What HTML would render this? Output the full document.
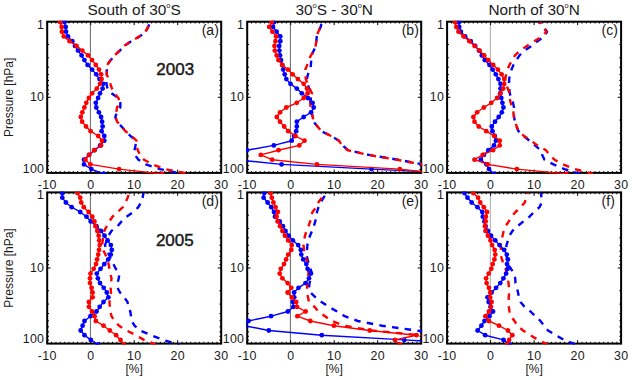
<!DOCTYPE html><html><head><meta charset="utf-8"><style>html,body{margin:0;padding:0;background:#fff;}svg{display:block}</style></head><body>
<svg width="632" height="380" viewBox="0 0 632 380">
<rect width="632" height="380" fill="#fff"/>
<clipPath id="cp00"><rect x="46.2" y="20.7" width="176.0" height="153.2"/></clipPath>
<line x1="90.40" y1="21.7" x2="90.40" y2="172.89999999999998" stroke="#666" stroke-width="1"/>
<path d="M47.20,21.7v3.4M47.20,172.89999999999998v-3.4M51.55,21.7v1.8M51.55,172.89999999999998v-1.8M55.90,21.7v1.8M55.90,172.89999999999998v-1.8M60.25,21.7v1.8M60.25,172.89999999999998v-1.8M64.60,21.7v1.8M64.60,172.89999999999998v-1.8M68.95,21.7v1.8M68.95,172.89999999999998v-1.8M73.30,21.7v1.8M73.30,172.89999999999998v-1.8M77.65,21.7v1.8M77.65,172.89999999999998v-1.8M82.00,21.7v1.8M82.00,172.89999999999998v-1.8M86.35,21.7v1.8M86.35,172.89999999999998v-1.8M90.70,21.7v3.4M90.70,172.89999999999998v-3.4M95.05,21.7v1.8M95.05,172.89999999999998v-1.8M99.40,21.7v1.8M99.40,172.89999999999998v-1.8M103.75,21.7v1.8M103.75,172.89999999999998v-1.8M108.10,21.7v1.8M108.10,172.89999999999998v-1.8M112.45,21.7v1.8M112.45,172.89999999999998v-1.8M116.80,21.7v1.8M116.80,172.89999999999998v-1.8M121.15,21.7v1.8M121.15,172.89999999999998v-1.8M125.50,21.7v1.8M125.50,172.89999999999998v-1.8M129.85,21.7v1.8M129.85,172.89999999999998v-1.8M134.20,21.7v3.4M134.20,172.89999999999998v-3.4M138.55,21.7v1.8M138.55,172.89999999999998v-1.8M142.90,21.7v1.8M142.90,172.89999999999998v-1.8M147.25,21.7v1.8M147.25,172.89999999999998v-1.8M151.60,21.7v1.8M151.60,172.89999999999998v-1.8M155.95,21.7v1.8M155.95,172.89999999999998v-1.8M160.30,21.7v1.8M160.30,172.89999999999998v-1.8M164.65,21.7v1.8M164.65,172.89999999999998v-1.8M169.00,21.7v1.8M169.00,172.89999999999998v-1.8M173.35,21.7v1.8M173.35,172.89999999999998v-1.8M177.70,21.7v3.4M177.70,172.89999999999998v-3.4M182.05,21.7v1.8M182.05,172.89999999999998v-1.8M186.40,21.7v1.8M186.40,172.89999999999998v-1.8M190.75,21.7v1.8M190.75,172.89999999999998v-1.8M195.10,21.7v1.8M195.10,172.89999999999998v-1.8M199.45,21.7v1.8M199.45,172.89999999999998v-1.8M203.80,21.7v1.8M203.80,172.89999999999998v-1.8M208.15,21.7v1.8M208.15,172.89999999999998v-1.8M212.50,21.7v1.8M212.50,172.89999999999998v-1.8M216.85,21.7v1.8M216.85,172.89999999999998v-1.8M221.20,21.7v3.4M221.20,172.89999999999998v-3.4M47.2,44.46h1.8M221.2,44.46h-1.8M47.2,57.77h1.8M221.2,57.77h-1.8M47.2,67.22h1.8M221.2,67.22h-1.8M47.2,74.54h1.8M221.2,74.54h-1.8M47.2,80.53h1.8M221.2,80.53h-1.8M47.2,85.59h1.8M221.2,85.59h-1.8M47.2,89.97h1.8M221.2,89.97h-1.8M47.2,93.84h1.8M221.2,93.84h-1.8M47.2,97.30h3.4M221.2,97.30h-3.4M47.2,120.06h1.8M221.2,120.06h-1.8M47.2,133.37h1.8M221.2,133.37h-1.8M47.2,142.82h1.8M221.2,142.82h-1.8M47.2,150.14h1.8M221.2,150.14h-1.8M47.2,156.13h1.8M221.2,156.13h-1.8M47.2,161.19h1.8M221.2,161.19h-1.8M47.2,165.57h1.8M221.2,165.57h-1.8M47.2,169.44h1.8M221.2,169.44h-1.8" stroke="#000" stroke-width="1" fill="none"/>
<rect x="47.2" y="21.7" width="174.0" height="151.2" fill="none" stroke="#000" stroke-width="2"/>
<g clip-path="url(#cp00)">
<path d="M149.8,22.2 L148.3,26.9 L145.8,31.7 L139.8,36.4 L131.3,41.2 L124.3,45.9 L119.8,50.6 L114.8,55.4 L110.8,60.1 L107.0,64.9 L106.8,69.6 L106.8,74.3 L106.3,79.1 L106.5,83.8 L107.5,88.6 L111.5,93.3 L118.4,98.0 L120.3,102.8 L120.3,107.5 L117.0,112.3 L115.3,117.0 L117.2,121.7 L121.5,126.5 L125.5,131.2 L130.5,136.0 L136.0,140.7 L135.5,145.4 L134.5,150.2 L134.8,154.9 L138.5,159.7 L146.0,164.4 L160.0,169.1 L182.0,173.9" fill="none" stroke="#0000ff" stroke-width="2.4" stroke-dasharray="6.5,6.3" stroke-dashoffset="10.54" stroke-linejoin="round"/>
<path d="M149.5,22.2 L148.0,26.9 L145.5,31.7 L139.5,36.4 L131.0,41.2 L124.0,45.9 L119.5,50.6 L114.5,55.4 L110.5,60.1 L107.2,64.9 L106.8,69.6 L106.8,74.3 L108.5,79.1 L110.3,83.8 L112.0,88.6 L114.5,93.3 L118.4,98.0 L120.0,102.8 L117.0,107.5 L116.3,112.3 L115.3,117.0 L117.2,121.7 L121.5,126.5 L125.5,131.2 L131.5,136.0 L136.5,140.7 L136.2,145.4 L137.8,150.2 L140.0,154.9 L144.0,159.7 L152.5,164.4 L165.0,169.1 L189.0,173.9" fill="none" stroke="#ff0000" stroke-width="2.4" stroke-dasharray="6.5,6.3" stroke-dashoffset="9.00" stroke-linejoin="round"/>
<path d="M64.4,22.2 L65.7,26.9 L66.0,31.7 L68.0,36.4 L72.3,41.2 L75.0,45.9 L78.0,50.6 L81.6,55.4 L84.4,60.1 L87.6,64.9 L92.1,69.6 L96.3,74.3 L99.5,79.1 L103.2,83.8 L102.6,88.6 L100.0,93.3 L98.1,98.0 L95.8,102.8 L96.3,107.5 L98.9,112.3 L101.1,117.0 L102.1,121.7 L102.6,126.5 L101.6,131.2 L104.3,136.0 L104.3,140.7 L100.2,145.4 L94.5,150.2 L89.0,154.9 L84.0,159.7 L84.0,164.4 L91.3,169.1 L104.0,173.9" fill="none" stroke="#0000ff" stroke-width="1.4" stroke-linejoin="round"/>
<g fill="#0000ff"><circle cx="64.4" cy="22.2" r="2.4"/><circle cx="65.7" cy="26.9" r="2.4"/><circle cx="66.0" cy="31.7" r="2.4"/><circle cx="68.0" cy="36.4" r="2.4"/><circle cx="72.3" cy="41.2" r="2.4"/><circle cx="75.0" cy="45.9" r="2.4"/><circle cx="78.0" cy="50.6" r="2.4"/><circle cx="81.6" cy="55.4" r="2.4"/><circle cx="84.4" cy="60.1" r="2.4"/><circle cx="87.6" cy="64.9" r="2.4"/><circle cx="92.1" cy="69.6" r="2.4"/><circle cx="96.3" cy="74.3" r="2.4"/><circle cx="99.5" cy="79.1" r="2.4"/><circle cx="103.2" cy="83.8" r="2.4"/><circle cx="102.6" cy="88.6" r="2.4"/><circle cx="100.0" cy="93.3" r="2.4"/><circle cx="98.1" cy="98.0" r="2.4"/><circle cx="95.8" cy="102.8" r="2.4"/><circle cx="96.3" cy="107.5" r="2.4"/><circle cx="98.9" cy="112.3" r="2.4"/><circle cx="101.1" cy="117.0" r="2.4"/><circle cx="102.1" cy="121.7" r="2.4"/><circle cx="102.6" cy="126.5" r="2.4"/><circle cx="101.6" cy="131.2" r="2.4"/><circle cx="104.3" cy="136.0" r="2.4"/><circle cx="104.3" cy="140.7" r="2.4"/><circle cx="100.2" cy="145.4" r="2.4"/><circle cx="94.5" cy="150.2" r="2.4"/><circle cx="89.0" cy="154.9" r="2.4"/><circle cx="84.0" cy="159.7" r="2.4"/><circle cx="84.0" cy="164.4" r="2.4"/><circle cx="91.3" cy="169.1" r="2.4"/><circle cx="104.0" cy="173.9" r="2.4"/></g>
<path d="M60.2,22.2 L61.7,26.9 L61.9,31.7 L63.8,36.4 L69.6,41.2 L76.5,45.9 L82.3,50.6 L88.0,55.4 L92.1,60.1 L95.8,64.9 L99.0,69.6 L101.1,74.3 L101.6,79.1 L100.0,83.8 L96.8,88.6 L92.1,93.3 L88.9,98.0 L86.3,102.8 L84.4,107.5 L82.3,112.3 L80.8,117.0 L82.1,121.7 L86.1,126.5 L90.6,131.2 L98.2,136.0 L102.0,140.7 L101.0,145.4 L94.3,150.2 L89.2,154.9 L85.4,159.7 L90.4,164.4 L119.1,169.1 L162.0,173.9" fill="none" stroke="#ff0000" stroke-width="1.4" stroke-linejoin="round"/>
<g fill="#ff0000"><circle cx="60.2" cy="22.2" r="2.4"/><circle cx="61.7" cy="26.9" r="2.4"/><circle cx="61.9" cy="31.7" r="2.4"/><circle cx="63.8" cy="36.4" r="2.4"/><circle cx="69.6" cy="41.2" r="2.4"/><circle cx="76.5" cy="45.9" r="2.4"/><circle cx="82.3" cy="50.6" r="2.4"/><circle cx="88.0" cy="55.4" r="2.4"/><circle cx="92.1" cy="60.1" r="2.4"/><circle cx="95.8" cy="64.9" r="2.4"/><circle cx="99.0" cy="69.6" r="2.4"/><circle cx="101.1" cy="74.3" r="2.4"/><circle cx="101.6" cy="79.1" r="2.4"/><circle cx="100.0" cy="83.8" r="2.4"/><circle cx="96.8" cy="88.6" r="2.4"/><circle cx="92.1" cy="93.3" r="2.4"/><circle cx="88.9" cy="98.0" r="2.4"/><circle cx="86.3" cy="102.8" r="2.4"/><circle cx="84.4" cy="107.5" r="2.4"/><circle cx="82.3" cy="112.3" r="2.4"/><circle cx="80.8" cy="117.0" r="2.4"/><circle cx="82.1" cy="121.7" r="2.4"/><circle cx="86.1" cy="126.5" r="2.4"/><circle cx="90.6" cy="131.2" r="2.4"/><circle cx="98.2" cy="136.0" r="2.4"/><circle cx="102.0" cy="140.7" r="2.4"/><circle cx="101.0" cy="145.4" r="2.4"/><circle cx="94.3" cy="150.2" r="2.4"/><circle cx="89.2" cy="154.9" r="2.4"/><circle cx="85.4" cy="159.7" r="2.4"/><circle cx="90.4" cy="164.4" r="2.4"/><circle cx="119.1" cy="169.1" r="2.4"/><circle cx="162.0" cy="173.9" r="2.4"/></g>
</g>
<clipPath id="cp01"><rect x="246.2" y="20.7" width="176.0" height="153.2"/></clipPath>
<line x1="290.40" y1="21.7" x2="290.40" y2="172.89999999999998" stroke="#666" stroke-width="1"/>
<path d="M247.20,21.7v3.4M247.20,172.89999999999998v-3.4M251.55,21.7v1.8M251.55,172.89999999999998v-1.8M255.90,21.7v1.8M255.90,172.89999999999998v-1.8M260.25,21.7v1.8M260.25,172.89999999999998v-1.8M264.60,21.7v1.8M264.60,172.89999999999998v-1.8M268.95,21.7v1.8M268.95,172.89999999999998v-1.8M273.30,21.7v1.8M273.30,172.89999999999998v-1.8M277.65,21.7v1.8M277.65,172.89999999999998v-1.8M282.00,21.7v1.8M282.00,172.89999999999998v-1.8M286.35,21.7v1.8M286.35,172.89999999999998v-1.8M290.70,21.7v3.4M290.70,172.89999999999998v-3.4M295.05,21.7v1.8M295.05,172.89999999999998v-1.8M299.40,21.7v1.8M299.40,172.89999999999998v-1.8M303.75,21.7v1.8M303.75,172.89999999999998v-1.8M308.10,21.7v1.8M308.10,172.89999999999998v-1.8M312.45,21.7v1.8M312.45,172.89999999999998v-1.8M316.80,21.7v1.8M316.80,172.89999999999998v-1.8M321.15,21.7v1.8M321.15,172.89999999999998v-1.8M325.50,21.7v1.8M325.50,172.89999999999998v-1.8M329.85,21.7v1.8M329.85,172.89999999999998v-1.8M334.20,21.7v3.4M334.20,172.89999999999998v-3.4M338.55,21.7v1.8M338.55,172.89999999999998v-1.8M342.90,21.7v1.8M342.90,172.89999999999998v-1.8M347.25,21.7v1.8M347.25,172.89999999999998v-1.8M351.60,21.7v1.8M351.60,172.89999999999998v-1.8M355.95,21.7v1.8M355.95,172.89999999999998v-1.8M360.30,21.7v1.8M360.30,172.89999999999998v-1.8M364.65,21.7v1.8M364.65,172.89999999999998v-1.8M369.00,21.7v1.8M369.00,172.89999999999998v-1.8M373.35,21.7v1.8M373.35,172.89999999999998v-1.8M377.70,21.7v3.4M377.70,172.89999999999998v-3.4M382.05,21.7v1.8M382.05,172.89999999999998v-1.8M386.40,21.7v1.8M386.40,172.89999999999998v-1.8M390.75,21.7v1.8M390.75,172.89999999999998v-1.8M395.10,21.7v1.8M395.10,172.89999999999998v-1.8M399.45,21.7v1.8M399.45,172.89999999999998v-1.8M403.80,21.7v1.8M403.80,172.89999999999998v-1.8M408.15,21.7v1.8M408.15,172.89999999999998v-1.8M412.50,21.7v1.8M412.50,172.89999999999998v-1.8M416.85,21.7v1.8M416.85,172.89999999999998v-1.8M421.20,21.7v3.4M421.20,172.89999999999998v-3.4M247.2,44.46h1.8M421.2,44.46h-1.8M247.2,57.77h1.8M421.2,57.77h-1.8M247.2,67.22h1.8M421.2,67.22h-1.8M247.2,74.54h1.8M421.2,74.54h-1.8M247.2,80.53h1.8M421.2,80.53h-1.8M247.2,85.59h1.8M421.2,85.59h-1.8M247.2,89.97h1.8M421.2,89.97h-1.8M247.2,93.84h1.8M421.2,93.84h-1.8M247.2,97.30h3.4M421.2,97.30h-3.4M247.2,120.06h1.8M421.2,120.06h-1.8M247.2,133.37h1.8M421.2,133.37h-1.8M247.2,142.82h1.8M421.2,142.82h-1.8M247.2,150.14h1.8M421.2,150.14h-1.8M247.2,156.13h1.8M421.2,156.13h-1.8M247.2,161.19h1.8M421.2,161.19h-1.8M247.2,165.57h1.8M421.2,165.57h-1.8M247.2,169.44h1.8M421.2,169.44h-1.8" stroke="#000" stroke-width="1" fill="none"/>
<rect x="247.2" y="21.7" width="174.0" height="151.2" fill="none" stroke="#000" stroke-width="2"/>
<g clip-path="url(#cp01)">
<path d="M321.8,22.2 L320.7,26.9 L318.3,31.7 L316.8,36.4 L316.3,41.2 L315.6,45.9 L313.8,50.6 L311.5,55.4 L311.2,60.1 L310.9,64.9 L310.2,69.6 L308.0,74.3 L306.8,79.1 L307.5,83.8 L309.2,88.6 L311.5,93.3 L310.9,98.0 L310.5,102.8 L310.7,107.5 L311.5,112.3 L312.7,117.0 L313.5,121.7 L317.5,126.5 L321.5,131.2 L331.0,136.0 L339.0,140.7 L342.5,145.4 L348.0,150.2 L369.0,154.9 L398.0,159.7 L422.5,164.4 L447.0,169.1 L471.0,173.9" fill="none" stroke="#0000ff" stroke-width="2.4" stroke-dasharray="6.5,6.3" stroke-dashoffset="10.90" stroke-linejoin="round"/>
<path d="M321.8,22.2 L320.7,26.9 L318.3,31.7 L316.8,36.4 L316.3,41.2 L315.6,45.9 L313.8,50.6 L311.0,55.4 L308.5,60.1 L307.2,64.9 L305.3,69.6 L305.2,74.3 L305.8,79.1 L307.5,83.8 L309.5,88.6 L312.0,93.3 L310.7,98.0 L310.3,102.8 L310.5,107.5 L311.5,112.3 L312.7,117.0 L313.5,121.7 L317.5,126.5 L321.5,131.2 L331.0,136.0 L339.0,140.7 L342.0,145.4 L347.5,150.2 L368.0,154.9 L397.0,159.7 L421.5,164.4 L446.0,169.1 L470.0,173.9" fill="none" stroke="#ff0000" stroke-width="2.4" stroke-dasharray="6.5,6.3" stroke-dashoffset="6.60" stroke-linejoin="round"/>
<path d="M274.0,22.2 L273.1,26.9 L276.6,31.7 L280.3,36.4 L280.3,41.2 L279.2,45.9 L279.4,50.6 L280.0,55.4 L281.0,60.1 L282.3,64.9 L283.2,69.6 L284.7,74.3 L286.3,79.1 L290.5,83.8 L296.8,88.6 L301.8,93.3 L307.9,98.0 L312.6,102.8 L313.7,107.5 L311.1,112.3 L303.7,117.0 L296.8,121.7 L296.8,126.5 L296.2,131.2 L294.0,136.0 L291.7,140.7 L273.8,145.4 L246.9,150.2 L219.0,154.9 L236.0,159.7 L281.6,164.4 L371.6,169.1 L470.0,173.9" fill="none" stroke="#0000ff" stroke-width="1.4" stroke-linejoin="round"/>
<g fill="#0000ff"><circle cx="274.0" cy="22.2" r="2.4"/><circle cx="273.1" cy="26.9" r="2.4"/><circle cx="276.6" cy="31.7" r="2.4"/><circle cx="280.3" cy="36.4" r="2.4"/><circle cx="280.3" cy="41.2" r="2.4"/><circle cx="279.2" cy="45.9" r="2.4"/><circle cx="279.4" cy="50.6" r="2.4"/><circle cx="280.0" cy="55.4" r="2.4"/><circle cx="281.0" cy="60.1" r="2.4"/><circle cx="282.3" cy="64.9" r="2.4"/><circle cx="283.2" cy="69.6" r="2.4"/><circle cx="284.7" cy="74.3" r="2.4"/><circle cx="286.3" cy="79.1" r="2.4"/><circle cx="290.5" cy="83.8" r="2.4"/><circle cx="296.8" cy="88.6" r="2.4"/><circle cx="301.8" cy="93.3" r="2.4"/><circle cx="307.9" cy="98.0" r="2.4"/><circle cx="312.6" cy="102.8" r="2.4"/><circle cx="313.7" cy="107.5" r="2.4"/><circle cx="311.1" cy="112.3" r="2.4"/><circle cx="303.7" cy="117.0" r="2.4"/><circle cx="296.8" cy="121.7" r="2.4"/><circle cx="296.8" cy="126.5" r="2.4"/><circle cx="296.2" cy="131.2" r="2.4"/><circle cx="294.0" cy="136.0" r="2.4"/><circle cx="291.7" cy="140.7" r="2.4"/><circle cx="273.8" cy="145.4" r="2.4"/><circle cx="246.9" cy="150.2" r="2.4"/><circle cx="219.0" cy="154.9" r="2.4"/><circle cx="236.0" cy="159.7" r="2.4"/><circle cx="281.6" cy="164.4" r="2.4"/><circle cx="371.6" cy="169.1" r="2.4"/><circle cx="470.0" cy="173.9" r="2.4"/></g>
<path d="M271.8,22.2 L269.2,26.9 L272.4,31.7 L276.1,36.4 L275.5,41.2 L274.5,45.9 L274.8,50.6 L276.7,55.4 L278.4,60.1 L282.1,64.9 L287.9,69.6 L292.6,74.3 L297.9,79.1 L303.7,83.8 L307.0,88.6 L307.6,93.3 L303.7,98.0 L296.8,102.8 L286.3,107.5 L280.0,112.3 L276.8,117.0 L280.0,121.7 L284.2,126.5 L288.2,131.2 L295.5,136.0 L304.5,140.7 L299.3,145.4 L278.5,150.2 L260.8,154.9 L272.1,159.7 L317.0,164.4 L399.8,169.1 L443.0,173.9" fill="none" stroke="#ff0000" stroke-width="1.4" stroke-linejoin="round"/>
<g fill="#ff0000"><circle cx="271.8" cy="22.2" r="2.4"/><circle cx="269.2" cy="26.9" r="2.4"/><circle cx="272.4" cy="31.7" r="2.4"/><circle cx="276.1" cy="36.4" r="2.4"/><circle cx="275.5" cy="41.2" r="2.4"/><circle cx="274.5" cy="45.9" r="2.4"/><circle cx="274.8" cy="50.6" r="2.4"/><circle cx="276.7" cy="55.4" r="2.4"/><circle cx="278.4" cy="60.1" r="2.4"/><circle cx="282.1" cy="64.9" r="2.4"/><circle cx="287.9" cy="69.6" r="2.4"/><circle cx="292.6" cy="74.3" r="2.4"/><circle cx="297.9" cy="79.1" r="2.4"/><circle cx="303.7" cy="83.8" r="2.4"/><circle cx="307.0" cy="88.6" r="2.4"/><circle cx="307.6" cy="93.3" r="2.4"/><circle cx="303.7" cy="98.0" r="2.4"/><circle cx="296.8" cy="102.8" r="2.4"/><circle cx="286.3" cy="107.5" r="2.4"/><circle cx="280.0" cy="112.3" r="2.4"/><circle cx="276.8" cy="117.0" r="2.4"/><circle cx="280.0" cy="121.7" r="2.4"/><circle cx="284.2" cy="126.5" r="2.4"/><circle cx="288.2" cy="131.2" r="2.4"/><circle cx="295.5" cy="136.0" r="2.4"/><circle cx="304.5" cy="140.7" r="2.4"/><circle cx="299.3" cy="145.4" r="2.4"/><circle cx="278.5" cy="150.2" r="2.4"/><circle cx="260.8" cy="154.9" r="2.4"/><circle cx="272.1" cy="159.7" r="2.4"/><circle cx="317.0" cy="164.4" r="2.4"/><circle cx="399.8" cy="169.1" r="2.4"/><circle cx="443.0" cy="173.9" r="2.4"/></g>
</g>
<clipPath id="cp02"><rect x="446.1" y="20.7" width="176.0" height="153.2"/></clipPath>
<line x1="490.30" y1="21.7" x2="490.30" y2="172.89999999999998" stroke="#aaa" stroke-width="1"/>
<path d="M447.10,21.7v3.4M447.10,172.89999999999998v-3.4M451.45,21.7v1.8M451.45,172.89999999999998v-1.8M455.80,21.7v1.8M455.80,172.89999999999998v-1.8M460.15,21.7v1.8M460.15,172.89999999999998v-1.8M464.50,21.7v1.8M464.50,172.89999999999998v-1.8M468.85,21.7v1.8M468.85,172.89999999999998v-1.8M473.20,21.7v1.8M473.20,172.89999999999998v-1.8M477.55,21.7v1.8M477.55,172.89999999999998v-1.8M481.90,21.7v1.8M481.90,172.89999999999998v-1.8M486.25,21.7v1.8M486.25,172.89999999999998v-1.8M490.60,21.7v3.4M490.60,172.89999999999998v-3.4M494.95,21.7v1.8M494.95,172.89999999999998v-1.8M499.30,21.7v1.8M499.30,172.89999999999998v-1.8M503.65,21.7v1.8M503.65,172.89999999999998v-1.8M508.00,21.7v1.8M508.00,172.89999999999998v-1.8M512.35,21.7v1.8M512.35,172.89999999999998v-1.8M516.70,21.7v1.8M516.70,172.89999999999998v-1.8M521.05,21.7v1.8M521.05,172.89999999999998v-1.8M525.40,21.7v1.8M525.40,172.89999999999998v-1.8M529.75,21.7v1.8M529.75,172.89999999999998v-1.8M534.10,21.7v3.4M534.10,172.89999999999998v-3.4M538.45,21.7v1.8M538.45,172.89999999999998v-1.8M542.80,21.7v1.8M542.80,172.89999999999998v-1.8M547.15,21.7v1.8M547.15,172.89999999999998v-1.8M551.50,21.7v1.8M551.50,172.89999999999998v-1.8M555.85,21.7v1.8M555.85,172.89999999999998v-1.8M560.20,21.7v1.8M560.20,172.89999999999998v-1.8M564.55,21.7v1.8M564.55,172.89999999999998v-1.8M568.90,21.7v1.8M568.90,172.89999999999998v-1.8M573.25,21.7v1.8M573.25,172.89999999999998v-1.8M577.60,21.7v3.4M577.60,172.89999999999998v-3.4M581.95,21.7v1.8M581.95,172.89999999999998v-1.8M586.30,21.7v1.8M586.30,172.89999999999998v-1.8M590.65,21.7v1.8M590.65,172.89999999999998v-1.8M595.00,21.7v1.8M595.00,172.89999999999998v-1.8M599.35,21.7v1.8M599.35,172.89999999999998v-1.8M603.70,21.7v1.8M603.70,172.89999999999998v-1.8M608.05,21.7v1.8M608.05,172.89999999999998v-1.8M612.40,21.7v1.8M612.40,172.89999999999998v-1.8M616.75,21.7v1.8M616.75,172.89999999999998v-1.8M621.10,21.7v3.4M621.10,172.89999999999998v-3.4M447.1,44.46h1.8M621.1,44.46h-1.8M447.1,57.77h1.8M621.1,57.77h-1.8M447.1,67.22h1.8M621.1,67.22h-1.8M447.1,74.54h1.8M621.1,74.54h-1.8M447.1,80.53h1.8M621.1,80.53h-1.8M447.1,85.59h1.8M621.1,85.59h-1.8M447.1,89.97h1.8M621.1,89.97h-1.8M447.1,93.84h1.8M621.1,93.84h-1.8M447.1,97.30h3.4M621.1,97.30h-3.4M447.1,120.06h1.8M621.1,120.06h-1.8M447.1,133.37h1.8M621.1,133.37h-1.8M447.1,142.82h1.8M621.1,142.82h-1.8M447.1,150.14h1.8M621.1,150.14h-1.8M447.1,156.13h1.8M621.1,156.13h-1.8M447.1,161.19h1.8M621.1,161.19h-1.8M447.1,165.57h1.8M621.1,165.57h-1.8M447.1,169.44h1.8M621.1,169.44h-1.8" stroke="#000" stroke-width="1" fill="none"/>
<rect x="447.1" y="21.7" width="174.0" height="151.2" fill="none" stroke="#000" stroke-width="2"/>
<g clip-path="url(#cp02)">
<path d="M540.0,22.2 L543.5,26.9 L547.0,31.7 L544.5,36.4 L537.5,41.2 L531.5,45.9 L524.5,50.6 L519.5,55.4 L516.5,60.1 L513.5,64.9 L511.5,69.6 L510.0,74.3 L509.2,79.1 L509.0,83.8 L509.2,88.6 L509.8,93.3 L511.0,98.0 L513.0,102.8 L514.0,107.5 L513.6,112.3 L514.0,117.0 L515.0,121.7 L516.5,126.5 L518.5,131.2 L523.5,136.0 L529.5,140.7 L535.0,145.4 L540.6,150.2 L542.2,154.9 L544.5,159.7 L553.5,164.4 L564.5,169.1 L580.0,173.9" fill="none" stroke="#0000ff" stroke-width="2.4" stroke-dasharray="6.5,6.3" stroke-dashoffset="4.70" stroke-linejoin="round"/>
<path d="M539.5,22.2 L543.0,26.9 L546.5,31.7 L542.0,36.4 L534.2,41.2 L527.0,45.9 L520.0,50.6 L515.0,55.4 L512.3,60.1 L509.5,64.9 L507.5,69.6 L506.3,74.3 L505.0,79.1 L506.0,83.8 L507.8,88.6 L509.5,93.3 L509.5,98.0 L510.7,102.8 L512.0,107.5 L513.4,112.3 L514.0,117.0 L515.0,121.7 L516.7,126.5 L518.5,131.2 L524.0,136.0 L531.0,140.7 L537.5,145.4 L546.0,150.2 L549.5,154.9 L554.5,159.7 L563.0,164.4 L575.0,169.1 L593.0,173.9" fill="none" stroke="#ff0000" stroke-width="2.4" stroke-dasharray="6.5,6.3" stroke-dashoffset="4.40" stroke-linejoin="round"/>
<path d="M458.9,22.2 L459.2,26.9 L460.8,31.7 L465.1,36.4 L470.7,41.2 L475.2,45.9 L479.0,50.6 L481.8,55.4 L484.7,60.1 L489.5,64.9 L492.6,69.6 L495.8,74.3 L498.4,79.1 L500.5,83.8 L500.5,88.6 L500.2,93.3 L501.3,98.0 L502.4,102.8 L503.4,107.5 L501.8,112.3 L498.7,117.0 L495.0,121.7 L491.8,126.5 L492.5,131.2 L494.7,136.0 L495.9,140.7 L494.0,145.4 L488.4,150.2 L483.9,154.9 L480.8,159.7 L486.5,164.4 L489.0,169.1 L494.0,173.9" fill="none" stroke="#0000ff" stroke-width="1.4" stroke-linejoin="round"/>
<g fill="#0000ff"><circle cx="458.9" cy="22.2" r="2.4"/><circle cx="459.2" cy="26.9" r="2.4"/><circle cx="460.8" cy="31.7" r="2.4"/><circle cx="465.1" cy="36.4" r="2.4"/><circle cx="470.7" cy="41.2" r="2.4"/><circle cx="475.2" cy="45.9" r="2.4"/><circle cx="479.0" cy="50.6" r="2.4"/><circle cx="481.8" cy="55.4" r="2.4"/><circle cx="484.7" cy="60.1" r="2.4"/><circle cx="489.5" cy="64.9" r="2.4"/><circle cx="492.6" cy="69.6" r="2.4"/><circle cx="495.8" cy="74.3" r="2.4"/><circle cx="498.4" cy="79.1" r="2.4"/><circle cx="500.5" cy="83.8" r="2.4"/><circle cx="500.5" cy="88.6" r="2.4"/><circle cx="500.2" cy="93.3" r="2.4"/><circle cx="501.3" cy="98.0" r="2.4"/><circle cx="502.4" cy="102.8" r="2.4"/><circle cx="503.4" cy="107.5" r="2.4"/><circle cx="501.8" cy="112.3" r="2.4"/><circle cx="498.7" cy="117.0" r="2.4"/><circle cx="495.0" cy="121.7" r="2.4"/><circle cx="491.8" cy="126.5" r="2.4"/><circle cx="492.5" cy="131.2" r="2.4"/><circle cx="494.7" cy="136.0" r="2.4"/><circle cx="495.9" cy="140.7" r="2.4"/><circle cx="494.0" cy="145.4" r="2.4"/><circle cx="488.4" cy="150.2" r="2.4"/><circle cx="483.9" cy="154.9" r="2.4"/><circle cx="480.8" cy="159.7" r="2.4"/><circle cx="486.5" cy="164.4" r="2.4"/><circle cx="489.0" cy="169.1" r="2.4"/><circle cx="494.0" cy="173.9" r="2.4"/></g>
<path d="M455.0,22.2 L456.3,26.9 L458.5,31.7 L463.6,36.4 L469.4,41.2 L474.6,45.9 L479.6,50.6 L484.2,55.4 L488.2,60.1 L493.2,64.9 L497.9,69.6 L501.6,74.3 L504.2,79.1 L504.2,83.8 L503.2,88.6 L500.5,93.3 L497.1,98.0 L491.3,102.8 L483.9,107.5 L477.1,112.3 L473.4,117.0 L474.5,121.7 L478.7,126.5 L486.3,131.2 L494.3,136.0 L499.7,140.7 L499.7,145.4 L493.0,150.2 L482.7,154.9 L474.5,159.7 L487.7,164.4 L516.9,169.1 L566.5,173.9" fill="none" stroke="#ff0000" stroke-width="1.4" stroke-linejoin="round"/>
<g fill="#ff0000"><circle cx="455.0" cy="22.2" r="2.4"/><circle cx="456.3" cy="26.9" r="2.4"/><circle cx="458.5" cy="31.7" r="2.4"/><circle cx="463.6" cy="36.4" r="2.4"/><circle cx="469.4" cy="41.2" r="2.4"/><circle cx="474.6" cy="45.9" r="2.4"/><circle cx="479.6" cy="50.6" r="2.4"/><circle cx="484.2" cy="55.4" r="2.4"/><circle cx="488.2" cy="60.1" r="2.4"/><circle cx="493.2" cy="64.9" r="2.4"/><circle cx="497.9" cy="69.6" r="2.4"/><circle cx="501.6" cy="74.3" r="2.4"/><circle cx="504.2" cy="79.1" r="2.4"/><circle cx="504.2" cy="83.8" r="2.4"/><circle cx="503.2" cy="88.6" r="2.4"/><circle cx="500.5" cy="93.3" r="2.4"/><circle cx="497.1" cy="98.0" r="2.4"/><circle cx="491.3" cy="102.8" r="2.4"/><circle cx="483.9" cy="107.5" r="2.4"/><circle cx="477.1" cy="112.3" r="2.4"/><circle cx="473.4" cy="117.0" r="2.4"/><circle cx="474.5" cy="121.7" r="2.4"/><circle cx="478.7" cy="126.5" r="2.4"/><circle cx="486.3" cy="131.2" r="2.4"/><circle cx="494.3" cy="136.0" r="2.4"/><circle cx="499.7" cy="140.7" r="2.4"/><circle cx="499.7" cy="145.4" r="2.4"/><circle cx="493.0" cy="150.2" r="2.4"/><circle cx="482.7" cy="154.9" r="2.4"/><circle cx="474.5" cy="159.7" r="2.4"/><circle cx="487.7" cy="164.4" r="2.4"/><circle cx="516.9" cy="169.1" r="2.4"/><circle cx="566.5" cy="173.9" r="2.4"/></g>
</g>
<clipPath id="cp10"><rect x="46.2" y="191.4" width="176.0" height="153.2"/></clipPath>
<line x1="90.40" y1="192.4" x2="90.40" y2="343.6" stroke="#666" stroke-width="1"/>
<path d="M47.20,192.4v3.4M47.20,343.6v-3.4M51.55,192.4v1.8M51.55,343.6v-1.8M55.90,192.4v1.8M55.90,343.6v-1.8M60.25,192.4v1.8M60.25,343.6v-1.8M64.60,192.4v1.8M64.60,343.6v-1.8M68.95,192.4v1.8M68.95,343.6v-1.8M73.30,192.4v1.8M73.30,343.6v-1.8M77.65,192.4v1.8M77.65,343.6v-1.8M82.00,192.4v1.8M82.00,343.6v-1.8M86.35,192.4v1.8M86.35,343.6v-1.8M90.70,192.4v3.4M90.70,343.6v-3.4M95.05,192.4v1.8M95.05,343.6v-1.8M99.40,192.4v1.8M99.40,343.6v-1.8M103.75,192.4v1.8M103.75,343.6v-1.8M108.10,192.4v1.8M108.10,343.6v-1.8M112.45,192.4v1.8M112.45,343.6v-1.8M116.80,192.4v1.8M116.80,343.6v-1.8M121.15,192.4v1.8M121.15,343.6v-1.8M125.50,192.4v1.8M125.50,343.6v-1.8M129.85,192.4v1.8M129.85,343.6v-1.8M134.20,192.4v3.4M134.20,343.6v-3.4M138.55,192.4v1.8M138.55,343.6v-1.8M142.90,192.4v1.8M142.90,343.6v-1.8M147.25,192.4v1.8M147.25,343.6v-1.8M151.60,192.4v1.8M151.60,343.6v-1.8M155.95,192.4v1.8M155.95,343.6v-1.8M160.30,192.4v1.8M160.30,343.6v-1.8M164.65,192.4v1.8M164.65,343.6v-1.8M169.00,192.4v1.8M169.00,343.6v-1.8M173.35,192.4v1.8M173.35,343.6v-1.8M177.70,192.4v3.4M177.70,343.6v-3.4M182.05,192.4v1.8M182.05,343.6v-1.8M186.40,192.4v1.8M186.40,343.6v-1.8M190.75,192.4v1.8M190.75,343.6v-1.8M195.10,192.4v1.8M195.10,343.6v-1.8M199.45,192.4v1.8M199.45,343.6v-1.8M203.80,192.4v1.8M203.80,343.6v-1.8M208.15,192.4v1.8M208.15,343.6v-1.8M212.50,192.4v1.8M212.50,343.6v-1.8M216.85,192.4v1.8M216.85,343.6v-1.8M221.20,192.4v3.4M221.20,343.6v-3.4M47.2,215.16h1.8M221.2,215.16h-1.8M47.2,228.47h1.8M221.2,228.47h-1.8M47.2,237.92h1.8M221.2,237.92h-1.8M47.2,245.24h1.8M221.2,245.24h-1.8M47.2,251.23h1.8M221.2,251.23h-1.8M47.2,256.29h1.8M221.2,256.29h-1.8M47.2,260.67h1.8M221.2,260.67h-1.8M47.2,264.54h1.8M221.2,264.54h-1.8M47.2,268.00h3.4M221.2,268.00h-3.4M47.2,290.76h1.8M221.2,290.76h-1.8M47.2,304.07h1.8M221.2,304.07h-1.8M47.2,313.52h1.8M221.2,313.52h-1.8M47.2,320.84h1.8M221.2,320.84h-1.8M47.2,326.83h1.8M221.2,326.83h-1.8M47.2,331.89h1.8M221.2,331.89h-1.8M47.2,336.27h1.8M221.2,336.27h-1.8M47.2,340.14h1.8M221.2,340.14h-1.8" stroke="#000" stroke-width="1" fill="none"/>
<rect x="47.2" y="192.4" width="174.0" height="151.2" fill="none" stroke="#000" stroke-width="2"/>
<g clip-path="url(#cp10)">
<path d="M143.5,193.0 L142.6,197.7 L141.0,202.5 L138.3,207.2 L133.5,212.0 L126.5,216.7 L121.6,221.4 L117.5,226.2 L111.5,230.9 L108.5,235.7 L106.8,240.4 L105.0,245.1 L106.5,249.9 L109.0,254.6 L111.0,259.4 L113.4,264.1 L115.8,268.8 L119.3,273.6 L118.8,278.3 L117.5,283.1 L117.5,287.8 L120.0,292.5 L124.3,297.3 L127.5,302.0 L128.4,306.8 L130.3,311.5 L131.0,316.2 L131.8,321.0 L134.5,325.7 L140.0,330.5 L151.0,335.2 L163.0,339.9 L180.0,344.7" fill="none" stroke="#0000ff" stroke-width="2.4" stroke-dasharray="6.5,6.3" stroke-dashoffset="1.65" stroke-linejoin="round"/>
<path d="M129.3,193.0 L127.6,197.7 L125.6,202.5 L122.9,207.2 L117.5,212.0 L112.5,216.7 L109.3,221.4 L106.7,226.2 L104.3,230.9 L103.6,235.7 L102.8,240.4 L102.0,245.1 L103.0,249.9 L105.5,254.6 L107.2,259.4 L108.6,264.1 L109.5,268.8 L110.4,273.6 L111.5,278.3 L111.0,283.1 L110.6,287.8 L111.0,292.5 L110.3,297.3 L109.5,302.0 L109.8,306.8 L110.3,311.5 L111.5,316.2 L114.5,321.0 L119.0,325.7 L126.5,330.5 L136.0,335.2 L144.0,339.9 L156.0,344.7" fill="none" stroke="#ff0000" stroke-width="2.4" stroke-dasharray="6.5,6.3" stroke-dashoffset="10.65" stroke-linejoin="round"/>
<path d="M62.3,193.0 L62.3,197.7 L65.9,202.5 L71.7,207.2 L80.2,212.0 L86.5,216.7 L90.7,221.4 L96.5,226.2 L100.9,230.9 L104.5,235.7 L107.6,240.4 L110.8,245.1 L111.8,249.9 L110.8,254.6 L108.2,259.4 L104.3,264.1 L100.5,268.8 L96.8,273.6 L97.9,278.3 L100.0,283.1 L103.7,287.8 L106.8,292.5 L108.4,297.3 L103.5,302.0 L99.7,306.8 L96.5,311.5 L90.5,316.2 L84.5,321.0 L82.6,325.7 L80.7,330.5 L84.5,335.2 L90.8,339.9 L98.0,344.7" fill="none" stroke="#0000ff" stroke-width="1.4" stroke-linejoin="round"/>
<g fill="#0000ff"><circle cx="62.3" cy="193.0" r="2.4"/><circle cx="62.3" cy="197.7" r="2.4"/><circle cx="65.9" cy="202.5" r="2.4"/><circle cx="71.7" cy="207.2" r="2.4"/><circle cx="80.2" cy="212.0" r="2.4"/><circle cx="86.5" cy="216.7" r="2.4"/><circle cx="90.7" cy="221.4" r="2.4"/><circle cx="96.5" cy="226.2" r="2.4"/><circle cx="100.9" cy="230.9" r="2.4"/><circle cx="104.5" cy="235.7" r="2.4"/><circle cx="107.6" cy="240.4" r="2.4"/><circle cx="110.8" cy="245.1" r="2.4"/><circle cx="111.8" cy="249.9" r="2.4"/><circle cx="110.8" cy="254.6" r="2.4"/><circle cx="108.2" cy="259.4" r="2.4"/><circle cx="104.3" cy="264.1" r="2.4"/><circle cx="100.5" cy="268.8" r="2.4"/><circle cx="96.8" cy="273.6" r="2.4"/><circle cx="97.9" cy="278.3" r="2.4"/><circle cx="100.0" cy="283.1" r="2.4"/><circle cx="103.7" cy="287.8" r="2.4"/><circle cx="106.8" cy="292.5" r="2.4"/><circle cx="108.4" cy="297.3" r="2.4"/><circle cx="103.5" cy="302.0" r="2.4"/><circle cx="99.7" cy="306.8" r="2.4"/><circle cx="96.5" cy="311.5" r="2.4"/><circle cx="90.5" cy="316.2" r="2.4"/><circle cx="84.5" cy="321.0" r="2.4"/><circle cx="82.6" cy="325.7" r="2.4"/><circle cx="80.7" cy="330.5" r="2.4"/><circle cx="84.5" cy="335.2" r="2.4"/><circle cx="90.8" cy="339.9" r="2.4"/><circle cx="98.0" cy="344.7" r="2.4"/></g>
<path d="M77.5,193.0 L80.2,197.7 L81.2,202.5 L83.8,207.2 L88.6,212.0 L92.3,216.7 L94.4,221.4 L95.5,226.2 L97.3,230.9 L98.7,235.7 L99.2,240.4 L99.7,245.1 L99.0,249.9 L98.2,254.6 L97.1,259.4 L96.0,264.1 L93.7,268.8 L90.5,273.6 L90.0,278.3 L90.0,283.1 L91.6,287.8 L92.6,292.5 L92.6,297.3 L88.9,302.0 L88.9,306.8 L92.1,311.5 L94.6,316.2 L95.9,321.0 L103.5,325.7 L109.8,330.5 L116.1,335.2 L120.5,339.9 L124.0,344.7" fill="none" stroke="#ff0000" stroke-width="1.4" stroke-linejoin="round"/>
<g fill="#ff0000"><circle cx="77.5" cy="193.0" r="2.4"/><circle cx="80.2" cy="197.7" r="2.4"/><circle cx="81.2" cy="202.5" r="2.4"/><circle cx="83.8" cy="207.2" r="2.4"/><circle cx="88.6" cy="212.0" r="2.4"/><circle cx="92.3" cy="216.7" r="2.4"/><circle cx="94.4" cy="221.4" r="2.4"/><circle cx="95.5" cy="226.2" r="2.4"/><circle cx="97.3" cy="230.9" r="2.4"/><circle cx="98.7" cy="235.7" r="2.4"/><circle cx="99.2" cy="240.4" r="2.4"/><circle cx="99.7" cy="245.1" r="2.4"/><circle cx="99.0" cy="249.9" r="2.4"/><circle cx="98.2" cy="254.6" r="2.4"/><circle cx="97.1" cy="259.4" r="2.4"/><circle cx="96.0" cy="264.1" r="2.4"/><circle cx="93.7" cy="268.8" r="2.4"/><circle cx="90.5" cy="273.6" r="2.4"/><circle cx="90.0" cy="278.3" r="2.4"/><circle cx="90.0" cy="283.1" r="2.4"/><circle cx="91.6" cy="287.8" r="2.4"/><circle cx="92.6" cy="292.5" r="2.4"/><circle cx="92.6" cy="297.3" r="2.4"/><circle cx="88.9" cy="302.0" r="2.4"/><circle cx="88.9" cy="306.8" r="2.4"/><circle cx="92.1" cy="311.5" r="2.4"/><circle cx="94.6" cy="316.2" r="2.4"/><circle cx="95.9" cy="321.0" r="2.4"/><circle cx="103.5" cy="325.7" r="2.4"/><circle cx="109.8" cy="330.5" r="2.4"/><circle cx="116.1" cy="335.2" r="2.4"/><circle cx="120.5" cy="339.9" r="2.4"/><circle cx="124.0" cy="344.7" r="2.4"/></g>
</g>
<clipPath id="cp11"><rect x="246.2" y="191.4" width="176.0" height="153.2"/></clipPath>
<line x1="290.40" y1="192.4" x2="290.40" y2="343.6" stroke="#666" stroke-width="1"/>
<path d="M247.20,192.4v3.4M247.20,343.6v-3.4M251.55,192.4v1.8M251.55,343.6v-1.8M255.90,192.4v1.8M255.90,343.6v-1.8M260.25,192.4v1.8M260.25,343.6v-1.8M264.60,192.4v1.8M264.60,343.6v-1.8M268.95,192.4v1.8M268.95,343.6v-1.8M273.30,192.4v1.8M273.30,343.6v-1.8M277.65,192.4v1.8M277.65,343.6v-1.8M282.00,192.4v1.8M282.00,343.6v-1.8M286.35,192.4v1.8M286.35,343.6v-1.8M290.70,192.4v3.4M290.70,343.6v-3.4M295.05,192.4v1.8M295.05,343.6v-1.8M299.40,192.4v1.8M299.40,343.6v-1.8M303.75,192.4v1.8M303.75,343.6v-1.8M308.10,192.4v1.8M308.10,343.6v-1.8M312.45,192.4v1.8M312.45,343.6v-1.8M316.80,192.4v1.8M316.80,343.6v-1.8M321.15,192.4v1.8M321.15,343.6v-1.8M325.50,192.4v1.8M325.50,343.6v-1.8M329.85,192.4v1.8M329.85,343.6v-1.8M334.20,192.4v3.4M334.20,343.6v-3.4M338.55,192.4v1.8M338.55,343.6v-1.8M342.90,192.4v1.8M342.90,343.6v-1.8M347.25,192.4v1.8M347.25,343.6v-1.8M351.60,192.4v1.8M351.60,343.6v-1.8M355.95,192.4v1.8M355.95,343.6v-1.8M360.30,192.4v1.8M360.30,343.6v-1.8M364.65,192.4v1.8M364.65,343.6v-1.8M369.00,192.4v1.8M369.00,343.6v-1.8M373.35,192.4v1.8M373.35,343.6v-1.8M377.70,192.4v3.4M377.70,343.6v-3.4M382.05,192.4v1.8M382.05,343.6v-1.8M386.40,192.4v1.8M386.40,343.6v-1.8M390.75,192.4v1.8M390.75,343.6v-1.8M395.10,192.4v1.8M395.10,343.6v-1.8M399.45,192.4v1.8M399.45,343.6v-1.8M403.80,192.4v1.8M403.80,343.6v-1.8M408.15,192.4v1.8M408.15,343.6v-1.8M412.50,192.4v1.8M412.50,343.6v-1.8M416.85,192.4v1.8M416.85,343.6v-1.8M421.20,192.4v3.4M421.20,343.6v-3.4M247.2,215.16h1.8M421.2,215.16h-1.8M247.2,228.47h1.8M421.2,228.47h-1.8M247.2,237.92h1.8M421.2,237.92h-1.8M247.2,245.24h1.8M421.2,245.24h-1.8M247.2,251.23h1.8M421.2,251.23h-1.8M247.2,256.29h1.8M421.2,256.29h-1.8M247.2,260.67h1.8M421.2,260.67h-1.8M247.2,264.54h1.8M421.2,264.54h-1.8M247.2,268.00h3.4M421.2,268.00h-3.4M247.2,290.76h1.8M421.2,290.76h-1.8M247.2,304.07h1.8M421.2,304.07h-1.8M247.2,313.52h1.8M421.2,313.52h-1.8M247.2,320.84h1.8M421.2,320.84h-1.8M247.2,326.83h1.8M421.2,326.83h-1.8M247.2,331.89h1.8M421.2,331.89h-1.8M247.2,336.27h1.8M421.2,336.27h-1.8M247.2,340.14h1.8M421.2,340.14h-1.8" stroke="#000" stroke-width="1" fill="none"/>
<rect x="247.2" y="192.4" width="174.0" height="151.2" fill="none" stroke="#000" stroke-width="2"/>
<g clip-path="url(#cp11)">
<path d="M326.0,193.0 L323.6,197.7 L320.5,202.5 L318.5,207.2 L317.0,212.0 L316.0,216.7 L315.3,221.4 L313.8,226.2 L312.0,230.9 L310.0,235.7 L308.5,240.4 L307.4,245.1 L307.0,249.9 L306.5,254.6 L307.5,259.4 L309.0,264.1 L310.5,268.8 L312.0,273.6 L311.0,278.3 L309.5,283.1 L309.0,287.8 L310.5,292.5 L315.5,297.3 L321.5,302.0 L328.7,306.8 L337.1,311.5 L344.7,316.2 L357.8,321.0 L382.0,325.7 L416.0,330.5 L460.0,335.2 L500.0,339.9 L540.0,344.7" fill="none" stroke="#0000ff" stroke-width="2.4" stroke-dasharray="6.5,6.3" stroke-dashoffset="9.80" stroke-linejoin="round"/>
<path d="M325.8,193.0 L321.8,197.7 L318.3,202.5 L316.3,207.2 L312.5,212.0 L311.0,216.7 L310.2,221.4 L308.5,226.2 L306.5,230.9 L305.0,235.7 L304.0,240.4 L303.5,245.1 L304.0,249.9 L304.8,254.6 L306.3,259.4 L308.0,264.1 L307.8,268.8 L308.5,273.6 L307.5,278.3 L307.1,283.1 L307.1,287.8 L307.0,292.5 L308.0,297.3 L309.0,302.0 L314.5,306.8 L318.3,311.5 L325.0,316.2 L332.0,321.0 L344.0,325.7 L372.0,330.5 L420.0,335.2 L460.0,339.9 L500.0,344.7" fill="none" stroke="#ff0000" stroke-width="2.4" stroke-dasharray="6.5,6.3" stroke-dashoffset="6.60" stroke-linejoin="round"/>
<path d="M264.3,193.0 L263.6,197.7 L267.6,202.5 L271.3,207.2 L274.0,212.0 L275.0,216.7 L279.7,221.4 L282.9,226.2 L285.5,230.9 L288.7,235.7 L292.9,240.4 L298.2,245.1 L300.8,249.9 L301.3,254.6 L303.2,259.4 L306.3,264.1 L307.6,268.8 L310.8,273.6 L309.0,278.3 L305.5,283.1 L298.5,287.8 L294.1,292.5 L294.2,297.3 L293.0,302.0 L293.4,306.8 L287.9,311.5 L271.0,316.2 L248.5,321.0 L244.5,325.7 L268.8,330.5 L321.8,335.2 L404.2,339.9 L490.0,344.7" fill="none" stroke="#0000ff" stroke-width="1.4" stroke-linejoin="round"/>
<g fill="#0000ff"><circle cx="264.3" cy="193.0" r="2.4"/><circle cx="263.6" cy="197.7" r="2.4"/><circle cx="267.6" cy="202.5" r="2.4"/><circle cx="271.3" cy="207.2" r="2.4"/><circle cx="274.0" cy="212.0" r="2.4"/><circle cx="275.0" cy="216.7" r="2.4"/><circle cx="279.7" cy="221.4" r="2.4"/><circle cx="282.9" cy="226.2" r="2.4"/><circle cx="285.5" cy="230.9" r="2.4"/><circle cx="288.7" cy="235.7" r="2.4"/><circle cx="292.9" cy="240.4" r="2.4"/><circle cx="298.2" cy="245.1" r="2.4"/><circle cx="300.8" cy="249.9" r="2.4"/><circle cx="301.3" cy="254.6" r="2.4"/><circle cx="303.2" cy="259.4" r="2.4"/><circle cx="306.3" cy="264.1" r="2.4"/><circle cx="307.6" cy="268.8" r="2.4"/><circle cx="310.8" cy="273.6" r="2.4"/><circle cx="309.0" cy="278.3" r="2.4"/><circle cx="305.5" cy="283.1" r="2.4"/><circle cx="298.5" cy="287.8" r="2.4"/><circle cx="294.1" cy="292.5" r="2.4"/><circle cx="294.2" cy="297.3" r="2.4"/><circle cx="293.0" cy="302.0" r="2.4"/><circle cx="293.4" cy="306.8" r="2.4"/><circle cx="287.9" cy="311.5" r="2.4"/><circle cx="271.0" cy="316.2" r="2.4"/><circle cx="248.5" cy="321.0" r="2.4"/><circle cx="244.5" cy="325.7" r="2.4"/><circle cx="268.8" cy="330.5" r="2.4"/><circle cx="321.8" cy="335.2" r="2.4"/><circle cx="404.2" cy="339.9" r="2.4"/><circle cx="490.0" cy="344.7" r="2.4"/></g>
<path d="M270.6,193.0 L271.8,197.7 L273.4,202.5 L275.5,207.2 L277.9,212.0 L276.6,216.7 L277.6,221.4 L280.0,226.2 L282.4,230.9 L285.0,235.7 L288.2,240.4 L291.8,245.1 L291.3,249.9 L288.2,254.6 L286.1,259.4 L284.0,264.1 L280.8,268.8 L279.7,273.6 L282.4,278.3 L287.6,283.1 L291.3,287.8 L287.6,292.5 L291.8,297.3 L296.2,302.0 L297.0,306.8 L305.6,311.5 L297.4,316.2 L310.3,321.0 L333.9,325.7 L369.7,330.5 L416.5,335.2 L394.9,339.9 L400.0,344.7" fill="none" stroke="#ff0000" stroke-width="1.4" stroke-linejoin="round"/>
<g fill="#ff0000"><circle cx="270.6" cy="193.0" r="2.4"/><circle cx="271.8" cy="197.7" r="2.4"/><circle cx="273.4" cy="202.5" r="2.4"/><circle cx="275.5" cy="207.2" r="2.4"/><circle cx="277.9" cy="212.0" r="2.4"/><circle cx="276.6" cy="216.7" r="2.4"/><circle cx="277.6" cy="221.4" r="2.4"/><circle cx="280.0" cy="226.2" r="2.4"/><circle cx="282.4" cy="230.9" r="2.4"/><circle cx="285.0" cy="235.7" r="2.4"/><circle cx="288.2" cy="240.4" r="2.4"/><circle cx="291.8" cy="245.1" r="2.4"/><circle cx="291.3" cy="249.9" r="2.4"/><circle cx="288.2" cy="254.6" r="2.4"/><circle cx="286.1" cy="259.4" r="2.4"/><circle cx="284.0" cy="264.1" r="2.4"/><circle cx="280.8" cy="268.8" r="2.4"/><circle cx="279.7" cy="273.6" r="2.4"/><circle cx="282.4" cy="278.3" r="2.4"/><circle cx="287.6" cy="283.1" r="2.4"/><circle cx="291.3" cy="287.8" r="2.4"/><circle cx="287.6" cy="292.5" r="2.4"/><circle cx="291.8" cy="297.3" r="2.4"/><circle cx="296.2" cy="302.0" r="2.4"/><circle cx="297.0" cy="306.8" r="2.4"/><circle cx="305.6" cy="311.5" r="2.4"/><circle cx="297.4" cy="316.2" r="2.4"/><circle cx="310.3" cy="321.0" r="2.4"/><circle cx="333.9" cy="325.7" r="2.4"/><circle cx="369.7" cy="330.5" r="2.4"/><circle cx="416.5" cy="335.2" r="2.4"/><circle cx="394.9" cy="339.9" r="2.4"/><circle cx="400.0" cy="344.7" r="2.4"/></g>
</g>
<clipPath id="cp12"><rect x="446.1" y="191.4" width="176.0" height="153.2"/></clipPath>
<line x1="490.30" y1="192.4" x2="490.30" y2="343.6" stroke="#aaa" stroke-width="1"/>
<path d="M447.10,192.4v3.4M447.10,343.6v-3.4M451.45,192.4v1.8M451.45,343.6v-1.8M455.80,192.4v1.8M455.80,343.6v-1.8M460.15,192.4v1.8M460.15,343.6v-1.8M464.50,192.4v1.8M464.50,343.6v-1.8M468.85,192.4v1.8M468.85,343.6v-1.8M473.20,192.4v1.8M473.20,343.6v-1.8M477.55,192.4v1.8M477.55,343.6v-1.8M481.90,192.4v1.8M481.90,343.6v-1.8M486.25,192.4v1.8M486.25,343.6v-1.8M490.60,192.4v3.4M490.60,343.6v-3.4M494.95,192.4v1.8M494.95,343.6v-1.8M499.30,192.4v1.8M499.30,343.6v-1.8M503.65,192.4v1.8M503.65,343.6v-1.8M508.00,192.4v1.8M508.00,343.6v-1.8M512.35,192.4v1.8M512.35,343.6v-1.8M516.70,192.4v1.8M516.70,343.6v-1.8M521.05,192.4v1.8M521.05,343.6v-1.8M525.40,192.4v1.8M525.40,343.6v-1.8M529.75,192.4v1.8M529.75,343.6v-1.8M534.10,192.4v3.4M534.10,343.6v-3.4M538.45,192.4v1.8M538.45,343.6v-1.8M542.80,192.4v1.8M542.80,343.6v-1.8M547.15,192.4v1.8M547.15,343.6v-1.8M551.50,192.4v1.8M551.50,343.6v-1.8M555.85,192.4v1.8M555.85,343.6v-1.8M560.20,192.4v1.8M560.20,343.6v-1.8M564.55,192.4v1.8M564.55,343.6v-1.8M568.90,192.4v1.8M568.90,343.6v-1.8M573.25,192.4v1.8M573.25,343.6v-1.8M577.60,192.4v3.4M577.60,343.6v-3.4M581.95,192.4v1.8M581.95,343.6v-1.8M586.30,192.4v1.8M586.30,343.6v-1.8M590.65,192.4v1.8M590.65,343.6v-1.8M595.00,192.4v1.8M595.00,343.6v-1.8M599.35,192.4v1.8M599.35,343.6v-1.8M603.70,192.4v1.8M603.70,343.6v-1.8M608.05,192.4v1.8M608.05,343.6v-1.8M612.40,192.4v1.8M612.40,343.6v-1.8M616.75,192.4v1.8M616.75,343.6v-1.8M621.10,192.4v3.4M621.10,343.6v-3.4M447.1,215.16h1.8M621.1,215.16h-1.8M447.1,228.47h1.8M621.1,228.47h-1.8M447.1,237.92h1.8M621.1,237.92h-1.8M447.1,245.24h1.8M621.1,245.24h-1.8M447.1,251.23h1.8M621.1,251.23h-1.8M447.1,256.29h1.8M621.1,256.29h-1.8M447.1,260.67h1.8M621.1,260.67h-1.8M447.1,264.54h1.8M621.1,264.54h-1.8M447.1,268.00h3.4M621.1,268.00h-3.4M447.1,290.76h1.8M621.1,290.76h-1.8M447.1,304.07h1.8M621.1,304.07h-1.8M447.1,313.52h1.8M621.1,313.52h-1.8M447.1,320.84h1.8M621.1,320.84h-1.8M447.1,326.83h1.8M621.1,326.83h-1.8M447.1,331.89h1.8M621.1,331.89h-1.8M447.1,336.27h1.8M621.1,336.27h-1.8M447.1,340.14h1.8M621.1,340.14h-1.8" stroke="#000" stroke-width="1" fill="none"/>
<rect x="447.1" y="192.4" width="174.0" height="151.2" fill="none" stroke="#000" stroke-width="2"/>
<g clip-path="url(#cp12)">
<path d="M540.8,193.0 L541.6,197.7 L541.6,202.5 L539.5,207.2 L534.0,212.0 L529.5,216.7 L523.5,221.4 L517.5,226.2 L512.5,230.9 L509.5,235.7 L508.0,240.4 L506.5,245.1 L506.0,249.9 L506.5,254.6 L507.0,259.4 L507.6,264.1 L511.0,268.8 L514.0,273.6 L515.2,278.3 L515.5,283.1 L517.0,287.8 L518.0,292.5 L519.0,297.3 L520.5,302.0 L524.5,306.8 L530.5,311.5 L535.5,316.2 L540.5,321.0 L544.0,325.7 L548.0,330.5 L556.0,335.2 L564.0,339.9 L576.0,344.7" fill="none" stroke="#0000ff" stroke-width="2.4" stroke-dasharray="6.5,6.3" stroke-dashoffset="2.20" stroke-linejoin="round"/>
<path d="M527.6,193.0 L526.3,197.7 L524.7,202.5 L520.8,207.2 L515.5,212.0 L511.4,216.7 L508.8,221.4 L505.5,226.2 L503.7,230.9 L502.6,235.7 L501.3,240.4 L500.7,245.1 L501.0,249.9 L500.5,254.6 L502.0,259.4 L503.5,264.1 L505.5,268.8 L507.0,273.6 L507.8,278.3 L508.5,283.1 L509.0,287.8 L509.2,292.5 L508.7,297.3 L508.6,302.0 L508.8,306.8 L509.5,311.5 L511.0,316.2 L514.5,321.0 L517.5,325.7 L523.0,330.5 L530.5,335.2 L538.0,339.9 L548.0,344.7" fill="none" stroke="#ff0000" stroke-width="2.4" stroke-dasharray="6.5,6.3" stroke-dashoffset="5.40" stroke-linejoin="round"/>
<path d="M464.4,193.0 L467.5,197.7 L471.7,202.5 L477.5,207.2 L482.3,212.0 L482.8,216.7 L484.4,221.4 L485.6,226.2 L487.9,230.9 L491.0,235.7 L495.3,240.4 L499.5,245.1 L504.2,249.9 L506.8,254.6 L507.9,259.4 L507.0,264.1 L507.6,268.8 L506.1,273.6 L503.4,278.3 L500.3,283.1 L496.1,287.8 L491.6,292.5 L487.5,297.3 L488.7,302.0 L490.5,306.8 L493.0,311.5 L489.5,316.2 L484.5,321.0 L481.4,325.7 L477.6,330.5 L485.2,335.2 L503.5,339.9 L510.0,344.7" fill="none" stroke="#0000ff" stroke-width="1.4" stroke-linejoin="round"/>
<g fill="#0000ff"><circle cx="464.4" cy="193.0" r="2.4"/><circle cx="467.5" cy="197.7" r="2.4"/><circle cx="471.7" cy="202.5" r="2.4"/><circle cx="477.5" cy="207.2" r="2.4"/><circle cx="482.3" cy="212.0" r="2.4"/><circle cx="482.8" cy="216.7" r="2.4"/><circle cx="484.4" cy="221.4" r="2.4"/><circle cx="485.6" cy="226.2" r="2.4"/><circle cx="487.9" cy="230.9" r="2.4"/><circle cx="491.0" cy="235.7" r="2.4"/><circle cx="495.3" cy="240.4" r="2.4"/><circle cx="499.5" cy="245.1" r="2.4"/><circle cx="504.2" cy="249.9" r="2.4"/><circle cx="506.8" cy="254.6" r="2.4"/><circle cx="507.9" cy="259.4" r="2.4"/><circle cx="507.0" cy="264.1" r="2.4"/><circle cx="507.6" cy="268.8" r="2.4"/><circle cx="506.1" cy="273.6" r="2.4"/><circle cx="503.4" cy="278.3" r="2.4"/><circle cx="500.3" cy="283.1" r="2.4"/><circle cx="496.1" cy="287.8" r="2.4"/><circle cx="491.6" cy="292.5" r="2.4"/><circle cx="487.5" cy="297.3" r="2.4"/><circle cx="488.7" cy="302.0" r="2.4"/><circle cx="490.5" cy="306.8" r="2.4"/><circle cx="493.0" cy="311.5" r="2.4"/><circle cx="489.5" cy="316.2" r="2.4"/><circle cx="484.5" cy="321.0" r="2.4"/><circle cx="481.4" cy="325.7" r="2.4"/><circle cx="477.6" cy="330.5" r="2.4"/><circle cx="485.2" cy="335.2" r="2.4"/><circle cx="503.5" cy="339.9" r="2.4"/><circle cx="510.0" cy="344.7" r="2.4"/></g>
<path d="M473.3,193.0 L478.1,197.7 L480.2,202.5 L483.8,207.2 L487.0,212.0 L485.9,216.7 L485.7,221.4 L485.0,226.2 L485.5,230.9 L487.9,235.7 L490.5,240.4 L492.1,245.1 L494.7,249.9 L495.3,254.6 L494.4,259.4 L492.7,264.1 L491.3,268.8 L488.7,273.6 L486.1,278.3 L486.6,283.1 L488.9,287.8 L490.2,292.5 L490.1,297.3 L491.6,302.0 L491.0,306.8 L489.0,311.5 L485.4,316.2 L488.9,321.0 L499.0,325.7 L507.9,330.5 L512.3,335.2 L509.1,339.9 L507.0,344.7" fill="none" stroke="#ff0000" stroke-width="1.4" stroke-linejoin="round"/>
<g fill="#ff0000"><circle cx="473.3" cy="193.0" r="2.4"/><circle cx="478.1" cy="197.7" r="2.4"/><circle cx="480.2" cy="202.5" r="2.4"/><circle cx="483.8" cy="207.2" r="2.4"/><circle cx="487.0" cy="212.0" r="2.4"/><circle cx="485.9" cy="216.7" r="2.4"/><circle cx="485.7" cy="221.4" r="2.4"/><circle cx="485.0" cy="226.2" r="2.4"/><circle cx="485.5" cy="230.9" r="2.4"/><circle cx="487.9" cy="235.7" r="2.4"/><circle cx="490.5" cy="240.4" r="2.4"/><circle cx="492.1" cy="245.1" r="2.4"/><circle cx="494.7" cy="249.9" r="2.4"/><circle cx="495.3" cy="254.6" r="2.4"/><circle cx="494.4" cy="259.4" r="2.4"/><circle cx="492.7" cy="264.1" r="2.4"/><circle cx="491.3" cy="268.8" r="2.4"/><circle cx="488.7" cy="273.6" r="2.4"/><circle cx="486.1" cy="278.3" r="2.4"/><circle cx="486.6" cy="283.1" r="2.4"/><circle cx="488.9" cy="287.8" r="2.4"/><circle cx="490.2" cy="292.5" r="2.4"/><circle cx="490.1" cy="297.3" r="2.4"/><circle cx="491.6" cy="302.0" r="2.4"/><circle cx="491.0" cy="306.8" r="2.4"/><circle cx="489.0" cy="311.5" r="2.4"/><circle cx="485.4" cy="316.2" r="2.4"/><circle cx="488.9" cy="321.0" r="2.4"/><circle cx="499.0" cy="325.7" r="2.4"/><circle cx="507.9" cy="330.5" r="2.4"/><circle cx="512.3" cy="335.2" r="2.4"/><circle cx="509.1" cy="339.9" r="2.4"/><circle cx="507.0" cy="344.7" r="2.4"/></g>
</g>
<g fill="#1a1a1a" style="font-family:&quot;Liberation Sans&quot;,sans-serif">
<text x="87.62" y="14.8"><tspan font-size="15.4">South of 30</tspan><tspan font-size="7.4" dy="-6.6">o</tspan><tspan font-size="15.4" dy="6.6">S</tspan></text>
<text x="295.42" y="14.8"><tspan font-size="15.4">30</tspan><tspan font-size="7.4" dy="-6.6">o</tspan><tspan font-size="15.4" dy="6.6">S - 30</tspan><tspan font-size="7.4" dy="-6.6">o</tspan><tspan font-size="15.4" dy="6.6">N</tspan></text>
<text x="488.39" y="14.8"><tspan font-size="15.4">North of 30</tspan><tspan font-size="7.4" dy="-6.6">o</tspan><tspan font-size="15.4" dy="6.6">N</tspan></text>
<text x="37.10" y="28.60" font-size="12.4" letter-spacing="0.3">1</text>
<text x="29.91" y="101.20" font-size="12.4" letter-spacing="0.3">10</text>
<text x="22.71" y="172.60" font-size="12.4" letter-spacing="0.3">100</text>
<text x="37.84" y="188.90" font-size="12.4" letter-spacing="0.3">-10</text>
<text x="87.15" y="188.90" font-size="12.4" letter-spacing="0.3">0</text>
<text x="127.05" y="188.90" font-size="12.4" letter-spacing="0.3">10</text>
<text x="170.55" y="188.90" font-size="12.4" letter-spacing="0.3">20</text>
<text x="214.05" y="188.90" font-size="12.4" letter-spacing="0.3">30</text>
<text x="201.70" y="35.10" font-size="14">(a)</text>
<text x="237.10" y="28.60" font-size="12.4" letter-spacing="0.3">1</text>
<text x="229.91" y="101.20" font-size="12.4" letter-spacing="0.3">10</text>
<text x="222.71" y="172.60" font-size="12.4" letter-spacing="0.3">100</text>
<text x="237.84" y="188.90" font-size="12.4" letter-spacing="0.3">-10</text>
<text x="287.15" y="188.90" font-size="12.4" letter-spacing="0.3">0</text>
<text x="327.05" y="188.90" font-size="12.4" letter-spacing="0.3">10</text>
<text x="370.55" y="188.90" font-size="12.4" letter-spacing="0.3">20</text>
<text x="414.05" y="188.90" font-size="12.4" letter-spacing="0.3">30</text>
<text x="401.70" y="35.10" font-size="14">(b)</text>
<text x="437.00" y="28.60" font-size="12.4" letter-spacing="0.3">1</text>
<text x="429.81" y="101.20" font-size="12.4" letter-spacing="0.3">10</text>
<text x="422.61" y="172.60" font-size="12.4" letter-spacing="0.3">100</text>
<text x="437.74" y="188.90" font-size="12.4" letter-spacing="0.3">-10</text>
<text x="487.05" y="188.90" font-size="12.4" letter-spacing="0.3">0</text>
<text x="526.95" y="188.90" font-size="12.4" letter-spacing="0.3">10</text>
<text x="570.45" y="188.90" font-size="12.4" letter-spacing="0.3">20</text>
<text x="613.95" y="188.90" font-size="12.4" letter-spacing="0.3">30</text>
<text x="601.60" y="35.10" font-size="14">(c)</text>
<text transform="translate(12.80,136.99) rotate(-90)" font-size="12">Pressure [hPa]</text>
<text x="37.10" y="199.30" font-size="12.4" letter-spacing="0.3">1</text>
<text x="29.91" y="271.90" font-size="12.4" letter-spacing="0.3">10</text>
<text x="22.71" y="343.30" font-size="12.4" letter-spacing="0.3">100</text>
<text x="37.84" y="359.60" font-size="12.4" letter-spacing="0.3">-10</text>
<text x="87.15" y="359.60" font-size="12.4" letter-spacing="0.3">0</text>
<text x="127.05" y="359.60" font-size="12.4" letter-spacing="0.3">10</text>
<text x="170.55" y="359.60" font-size="12.4" letter-spacing="0.3">20</text>
<text x="214.05" y="359.60" font-size="12.4" letter-spacing="0.3">30</text>
<text x="201.70" y="205.80" font-size="14">(d)</text>
<text x="237.10" y="199.30" font-size="12.4" letter-spacing="0.3">1</text>
<text x="229.91" y="271.90" font-size="12.4" letter-spacing="0.3">10</text>
<text x="222.71" y="343.30" font-size="12.4" letter-spacing="0.3">100</text>
<text x="237.84" y="359.60" font-size="12.4" letter-spacing="0.3">-10</text>
<text x="287.15" y="359.60" font-size="12.4" letter-spacing="0.3">0</text>
<text x="327.05" y="359.60" font-size="12.4" letter-spacing="0.3">10</text>
<text x="370.55" y="359.60" font-size="12.4" letter-spacing="0.3">20</text>
<text x="414.05" y="359.60" font-size="12.4" letter-spacing="0.3">30</text>
<text x="401.70" y="205.80" font-size="14">(e)</text>
<text x="437.00" y="199.30" font-size="12.4" letter-spacing="0.3">1</text>
<text x="429.81" y="271.90" font-size="12.4" letter-spacing="0.3">10</text>
<text x="422.61" y="343.30" font-size="12.4" letter-spacing="0.3">100</text>
<text x="437.74" y="359.60" font-size="12.4" letter-spacing="0.3">-10</text>
<text x="487.05" y="359.60" font-size="12.4" letter-spacing="0.3">0</text>
<text x="526.95" y="359.60" font-size="12.4" letter-spacing="0.3">10</text>
<text x="570.45" y="359.60" font-size="12.4" letter-spacing="0.3">20</text>
<text x="613.95" y="359.60" font-size="12.4" letter-spacing="0.3">30</text>
<text x="601.60" y="205.80" font-size="14">(f)</text>
<text transform="translate(12.80,307.69) rotate(-90)" font-size="12">Pressure [hPa]</text>
<g stroke="#1a1a1a" stroke-width="0.45">
<text x="156.29" y="74.60" font-size="17">2003</text>
<text x="155.89" y="245.90" font-size="17">2005</text>
</g>
<text x="125.53" y="372.60" font-size="12">[%]</text>
<text x="325.53" y="372.60" font-size="12">[%]</text>
<text x="525.43" y="372.60" font-size="12">[%]</text>
</g>
</svg></body></html>
